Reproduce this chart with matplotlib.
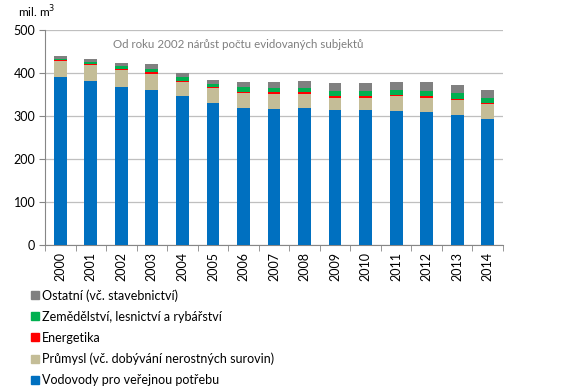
import numpy as np
import matplotlib
matplotlib.use("Agg")
import matplotlib.pyplot as plt
from matplotlib.patches import Patch

plt.rcParams['font.family'] = ['Lato', 'DejaVu Sans']

years = [str(y) for y in range(2000, 2015)]
vodovody = [391, 381, 367, 360, 347, 330, 318, 317, 319, 314, 313, 311, 309, 303, 292]
prumysl = [37, 38.5, 40, 38, 32, 35, 36, 34, 33, 29, 30, 35.5, 34, 34, 35.7]
energetika = [1.5, 2.5, 2.5, 4, 3, 1.5, 2.5, 4, 3, 3.5, 4, 3, 4, 3, 2.3]
zemedelstvi = [4, 4.5, 7, 7, 8, 7.5, 10, 9, 11, 12.5, 12, 10, 12, 12.7, 13]
ostatni = [6.5, 7, 6, 11, 11, 10.5, 11.5, 15, 15, 17.5, 18.5, 19, 20, 18.3, 16.7]

series = [
    ("Vodovody pro veřejnou potřebu", vodovody, "#0070C0"),
    ("Průmysl (vč. dobývání nerostných surovin)", prumysl, "#C4BD97"),
    ("Energetika", energetika, "#FF0000"),
    ("Zemědělství, lesnictví a rybářství", zemedelstvi, "#00B050"),
    ("Ostatní (vč. stavebnictví)", ostatni, "#808080"),
]

fig = plt.figure(figsize=(5.66, 3.92), dpi=100)
ax = fig.add_axes([45 / 566, 1 - 245 / 392, 458 / 566, 215 / 392])

x = np.arange(len(years))
bottom = np.zeros(len(years))
for name, vals, col in series:
    ax.bar(x, vals, bottom=bottom, width=0.42, color=col, label=name, zorder=3)
    bottom += np.array(vals)

ax.set_ylim(0, 500)
ax.set_xlim(-0.5, len(years) - 0.5)
ax.set_yticks(range(0, 501, 100))
ax.yaxis.grid(True, color="#BFBFBF", linewidth=0.9, zorder=0)
ax.set_xticks(x)
ax.set_xticklabels(years, rotation=90, fontsize=9)
ax.set_xticks(np.arange(-0.5, len(years), 1), minor=True)
ax.tick_params(axis="x", which="major", length=0, pad=5)
ax.tick_params(axis="x", which="minor", length=4, color="#868686")
ax.tick_params(axis="y", length=4, color="#868686", labelsize=9, pad=3)
for s in ["top", "right"]:
    ax.spines[s].set_visible(False)
ax.spines["left"].set_color("#868686")
ax.spines["bottom"].set_color("#868686")

fig.text(18 / 566, 1 - 12 / 392, "mil. m$^3$", fontsize=8.5, va="center", ha="left")
ax.text((113 - 45) / 458, 1 - (44 - 30) / 215,
        "Od roku 2002 nárůst počtu evidovaných subjektů",
        transform=ax.transAxes, fontsize=8.3, color="#7F7F7F", va="center", ha="left")

handles = [Patch(color=col, label=name) for name, vals, col in series][::-1]
fig.legend(handles=handles, loc="upper left", bbox_to_anchor=(26 / 566, 1 - 284 / 392),
           frameon=False, fontsize=9, handlelength=0.65, handleheight=0.65,
           handletextpad=0.2, labelspacing=0.72, borderaxespad=0)

fig.savefig("out.png", dpi=100)
